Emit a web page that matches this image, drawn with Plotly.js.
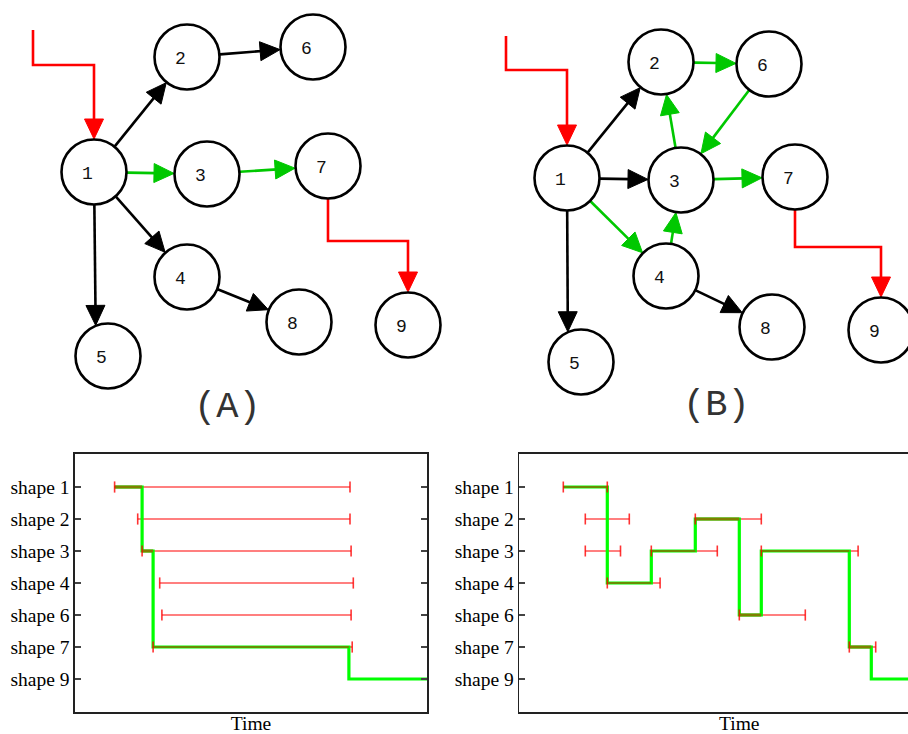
<!DOCTYPE html>
<html>
<head>
<meta charset="utf-8">
<script src="https://cdn.plot.ly/plotly-3.0.1.min.js"></script>
<style>
  html, body { margin: 0; padding: 0; overflow: hidden; background: #fff; }
  #fig { width: 960px; height: 734px; }
</style>
</head>
<body>
<div id="fig"></div>
<script>
// ---------- dependency graphs (diagram units = pixels of the top panel) ----------
const nodeIds = [1, 2, 3, 4, 5, 6, 7, 8, 9];

// graph (A)
const nodeXA = [94, 187, 207, 187, 108, 313, 328, 299, 408];
const nodeYA = [172, 57, 174, 277, 356, 47, 166, 322, 325];
const edgeFromA = [1, 1, 1, 1, 2, 3, 4];
const edgeToA   = [2, 3, 4, 5, 6, 7, 8];
const edgeAimDxA = [0, 0, 0, -12, 0, 0, 0];   // horizontal port shift at the head end
const edgeOnPathA = [false, true, false, false, false, true, false];
const entryStartA = [33, 30];
const entryElbowYA = 65;
const exitElbowYA = 241;

// graph (B)
const nodeXB = [567, 661, 681, 666, 581, 769, 795, 772, 881];
const nodeYB = [178, 62, 180, 276, 362, 64, 177, 327, 330];
const edgeFromB = [1, 1, 1, 1, 2, 6, 3, 3, 4, 4];
const edgeToB   = [2, 3, 4, 5, 6, 3, 2, 7, 3, 8];
const edgeAimDxB = [0, 0, 0, -13, 0, 0, 0, 0, 0, 0];
const edgeOnPathB = [false, false, true, false, true, true, true, true, true, false];
const entryStartB = [506, 36];
const entryElbowYB = 70;
const exitElbowYB = 247;

const entryNode = 1, exitFrom = 7, exitTo = 9;
const panelLabels = ['(A)', '(B)'];
const panelLabelX = [227, 716];
const panelLabelY = [407, 405];

// ---------- timelines ----------
const shapeNames = ['shape 1', 'shape 2', 'shape 3', 'shape 4', 'shape 6', 'shape 7', 'shape 9'];

// left timeline: activation windows and the executed path
const leftWinShape = ['shape 1', 'shape 2', 'shape 3', 'shape 4', 'shape 6', 'shape 7'];
const leftWinStart = [1.8, 2.85, 3.05, 3.85, 3.95, 3.55];
const leftWinEnd   = [12.5, 12.5, 12.55, 12.65, 12.55, 12.6];
const leftPathShape = ['shape 1', 'shape 3', 'shape 7', 'shape 9'];
const leftPathStart = [1.8, 3.05, 3.55, 12.45];
const leftPathEnd   = [3.05, 3.55, 12.45, 16];
const leftPathWait  = [true, true, false, false];

// right timeline
const rightWinShape = ['shape 1', 'shape 2', 'shape 2', 'shape 3', 'shape 3', 'shape 3', 'shape 4', 'shape 6', 'shape 7'];
const rightWinStart = [2, 3, 8, 3, 6, 11, 4, 10, 15];
const rightWinEnd   = [4, 5, 11, 4.6, 9, 15.4, 6.4, 13, 16.2];
const rightPathShape = ['shape 1', 'shape 4', 'shape 3', 'shape 2', 'shape 6', 'shape 3', 'shape 7', 'shape 9'];
const rightPathStart = [2, 4, 6, 8, 10, 11, 15, 16];
const rightPathEnd   = [4, 6, 8, 10, 11, 15, 16, 20];
const rightPathWait  = [false, false, false, true, true, false, true, false];

// ---------- drawing helpers ----------
const R = 33, HEAD_L = 20, HEAD_W = 9.5;
const BLACK = '#000000', GREEN = '#00c800', RED = '#ff0000';

function makeBucket() { return { lx: [], ly: [], hx: [], hy: [] }; }

function addHead(b, tx, ty, ux, uy) {
  const bx = tx - ux * HEAD_L, by = ty - uy * HEAD_L;
  const px = -uy, py = ux;
  b.hx.push(tx, bx + px * HEAD_W, bx - px * HEAD_W, tx, null);
  b.hy.push(ty, by + py * HEAD_W, by - py * HEAD_W, ty, null);
  return [bx + ux * 2, by + uy * 2];
}

function addEdge(b, sx, sy, tx, ty, aimDx) {
  const ax = tx + aimDx;
  const dx = ax - sx, dy = ty - sy, len = Math.hypot(dx, dy);
  const ux = dx / len, uy = dy / len;
  // distance from the aim point to where the line meets the target circle
  const off = aimDx * ux;
  const back = Math.sqrt(Math.max(R * R - (aimDx * aimDx - off * off), 0)) + off;
  const tipX = ax - ux * back, tipY = ty - uy * back;
  const end = addHead(b, tipX, tipY, ux, uy);
  b.lx.push(sx + ux * R, end[0], null);
  b.ly.push(sy + uy * R, end[1], null);
}

function addRoute(b, pts) {
  // orthogonal route; the last leg points straight down onto a node
  const n = pts.length;
  const tip = pts[n - 1];
  const end = addHead(b, tip[0], tip[1], 0, 1);
  for (let i = 0; i < n - 1; i++) { b.lx.push(pts[i][0]); b.ly.push(pts[i][1]); }
  b.lx.push(end[0], null); b.ly.push(end[1], null);
}

function graphTraces(nx, ny, from, to, aim, onPath, entryStart, entryElbow, exitElbow) {
  const black = makeBucket(), green = makeBucket(), red = makeBucket();
  const idx = id => nodeIds.indexOf(id);
  from.forEach((f, i) => {
    const a = idx(f), c = idx(to[i]);
    addEdge(onPath[i] ? green : black, nx[a], ny[a], nx[c], ny[c], aim[i]);
  });
  const e = idx(entryNode);
  addRoute(red, [entryStart, [entryStart[0], entryElbow], [nx[e], entryElbow], [nx[e], ny[e] - R]]);
  const s = idx(exitFrom), t = idx(exitTo);
  addRoute(red, [[nx[s], ny[s] + R], [nx[s], exitElbow], [nx[t], exitElbow], [nx[t], ny[t] - R]]);

  const out = [];
  [[black, BLACK], [green, GREEN], [red, RED]].forEach(([b, col]) => {
    out.push({ x: b.lx, y: b.ly, mode: 'lines', line: { color: col, width: 2.6 },
               xaxis: 'x3', yaxis: 'y3', hoverinfo: 'skip', showlegend: false });
    out.push({ x: b.hx, y: b.hy, mode: 'lines', fill: 'toself', fillcolor: col,
               line: { color: col, width: 1 }, xaxis: 'x3', yaxis: 'y3',
               hoverinfo: 'skip', showlegend: false });
  });
  out.push({ x: nx, y: ny, mode: 'markers',
             marker: { size: 65, color: '#ffffff', line: { color: '#000000', width: 2.6 } },
             xaxis: 'x3', yaxis: 'y3', hoverinfo: 'skip', showlegend: false, cliponaxis: false });
  return out;
}

function timelineTraces(ax, ay, wShape, wStart, wEnd, pShape, pStart, pEnd, pWait) {
  const wx = [], wy = [], gx = [], gy = [], ox = [], oy = [], rx = [], ry = [], cx = [], cy = [];
  wShape.forEach((s, i) => {
    wx.push(wStart[i], wEnd[i], null); wy.push(s, s, null);
    cx.push(wStart[i], wEnd[i]); cy.push(s, s);
  });
  pShape.forEach((s, i) => {
    gx.push(pStart[i], pEnd[i]); gy.push(s, s);
    if (pWait[i]) { ox.push(pStart[i], pEnd[i], null); oy.push(s, s, null); }
    else {
      wShape.forEach((ws, j) => {
        if (ws !== s) return;
        const a = Math.max(pStart[i], wStart[j]), b = Math.min(pEnd[i], wEnd[j]);
        if (b > a) { rx.push(a, b, null); ry.push(s, s, null); }
      });
    }
  });
  const base = { xaxis: ax, yaxis: ay, hoverinfo: 'skip', showlegend: false, mode: 'lines' };
  return [
    Object.assign({ x: wx, y: wy, line: { color: 'rgba(255,0,0,0.5)', width: 2 } }, base),
    Object.assign({ x: gx, y: gy, line: { color: '#00ff00', width: 3.2 } }, base),
    Object.assign({ x: ox, y: oy, line: { color: '#7f7f00', width: 3 } }, base),
    Object.assign({ x: rx, y: ry, line: { color: 'rgba(230,0,0,0.9)', width: 1 } }, base),
    Object.assign({}, base, { x: cx, y: cy, mode: 'markers',
      marker: { symbol: 'line-ns', size: 8, color: 'rgba(255,0,0,0.8)',
                line: { color: 'rgba(255,0,0,0.8)', width: 1.6 } } })
  ];
}

const data = [].concat(
  timelineTraces('x', 'y', leftWinShape, leftWinStart, leftWinEnd,
                 leftPathShape, leftPathStart, leftPathEnd, leftPathWait),
  timelineTraces('x2', 'y2', rightWinShape, rightWinStart, rightWinEnd,
                 rightPathShape, rightPathStart, rightPathEnd, rightPathWait),
  graphTraces(nodeXA, nodeYA, edgeFromA, edgeToA, edgeAimDxA, edgeOnPathA, entryStartA, entryElbowYA, exitElbowYA),
  graphTraces(nodeXB, nodeYB, edgeFromB, edgeToB, edgeAimDxB, edgeOnPathB, entryStartB, entryElbowYB, exitElbowYB)
);

// ---------- layout ----------
const W = 960, H = 734;
const serif = 'Liberation Serif, Times New Roman, serif';
const mono = 'Liberation Mono, Courier New, monospace';
const frameColor = '#222222';

function timeAxis(x0, x1, maxT, anchor) {
  return {
    domain: [x0 / W, x1 / W], range: [0, maxT], anchor: anchor,
    showticklabels: false, ticks: '', showgrid: false, zeroline: false,
    showline: true, mirror: true, linecolor: frameColor, linewidth: 1.6,
    title: { text: 'Time', font: { family: serif, size: 19.5, color: '#000' }, standoff: 6 }
  };
}
function shapeAxis(anchor) {
  return {
    domain: [(H - 712) / H, (H - 454) / H], anchor: anchor,
    type: 'category', categoryarray: shapeNames, categoryorder: 'array',
    range: [shapeNames.length - 1 + 33 / 32, -33 / 32],
    showgrid: false, zeroline: false,
    showline: true, mirror: 'ticks', linecolor: frameColor, linewidth: 1.6,
    ticks: 'inside', ticklen: 6, tickwidth: 1.5, tickcolor: '#444',
    tickfont: { family: serif, size: 19.5, color: '#000' }
  };
}

const annotations = [];
[[nodeXA, nodeYA], [nodeXB, nodeYB]].forEach(([nx, ny]) => {
  nodeIds.forEach((id, i) => annotations.push({
    x: nx[i], y: ny[i], xref: 'x3', yref: 'y3', text: String(id), showarrow: false,
    xshift: -7, yshift: -2, font: { family: mono, size: 18, color: '#111' }
  }));
});
panelLabels.forEach((t, i) => annotations.push({
  x: panelLabelX[i], y: panelLabelY[i], xref: 'x3', yref: 'y3', text: t, showarrow: false,
  font: { family: mono, size: 37, color: '#333' }
}));

const layout = {
  width: W, height: H,
  margin: { l: 0, r: 0, t: 0, b: 0, pad: 0 },
  paper_bgcolor: '#ffffff', plot_bgcolor: '#ffffff',
  showlegend: false,
  xaxis: timeAxis(75, 427, 16, 'y'),
  yaxis: shapeAxis('x'),
  xaxis2: timeAxis(519.3, 959.3, 20, 'y2'),
  yaxis2: shapeAxis('x2'),
  xaxis3: { domain: [0, 1], range: [0, W], anchor: 'y3', visible: false, fixedrange: true },
  yaxis3: { domain: [(H - 440) / H, 1], range: [440, 0], anchor: 'x3', visible: false, fixedrange: true },
  annotations: annotations
};

Plotly.newPlot('fig', data, layout, { staticPlot: true, displayModeBar: false });
</script>
</body>
</html>
